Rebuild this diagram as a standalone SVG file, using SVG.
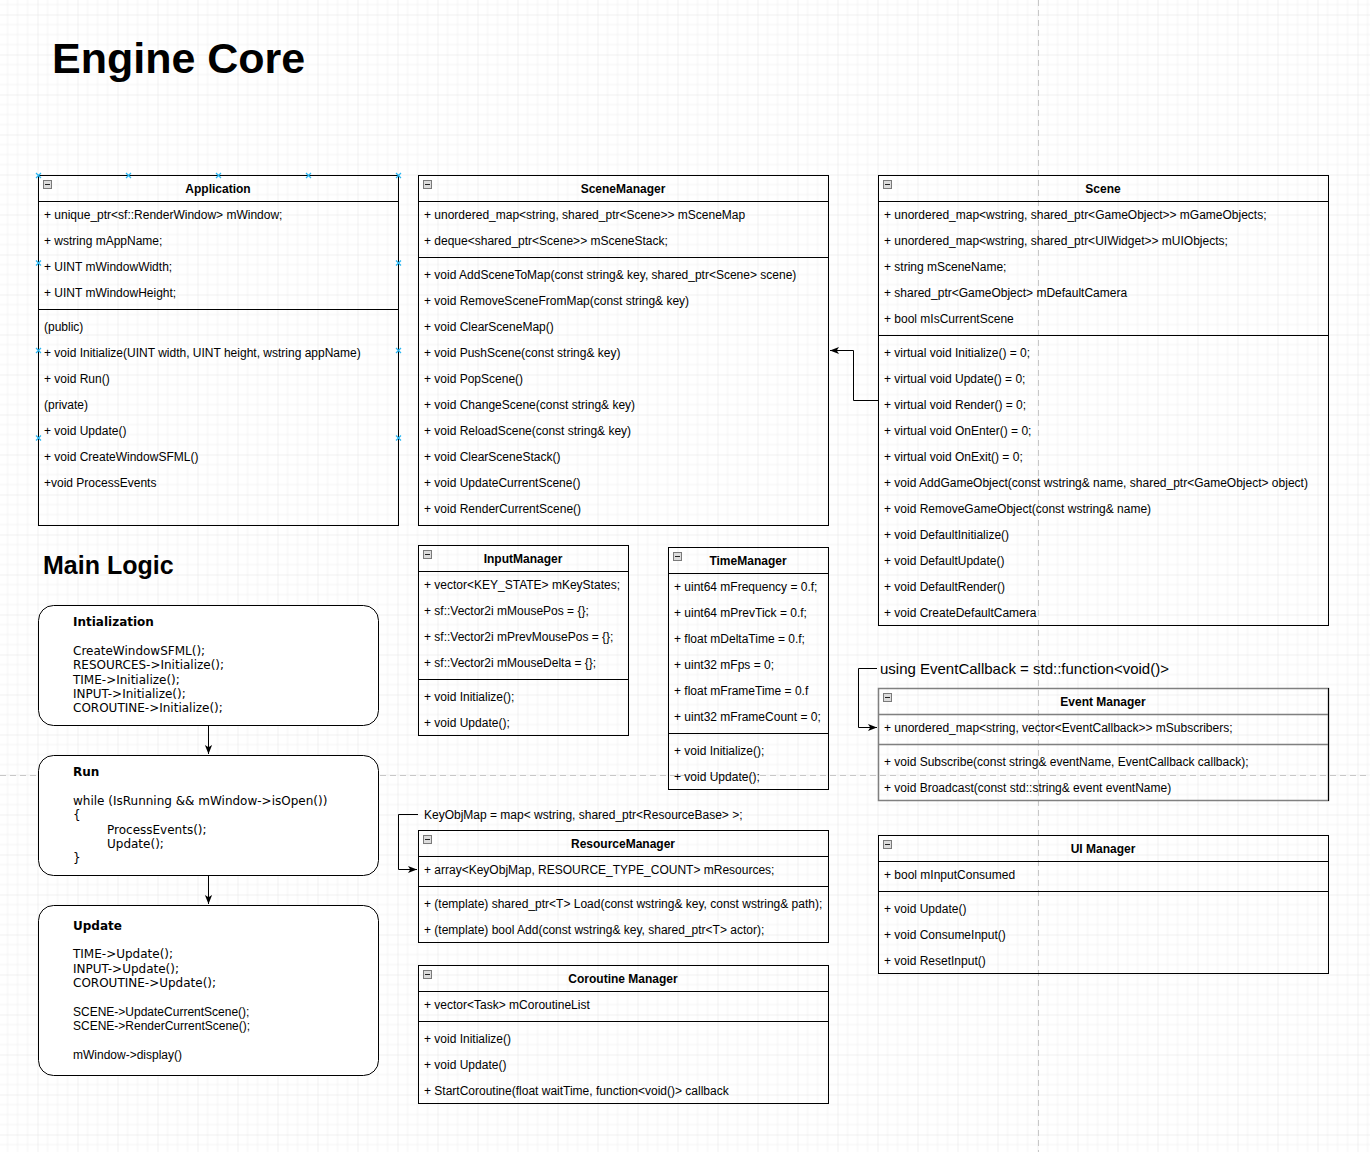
<svg xmlns="http://www.w3.org/2000/svg" xmlns:xlink="http://www.w3.org/1999/xlink" width="1370" height="1152" viewBox="0 0 1370 1152">
<style>
.t{font-family:"Liberation Sans",Arial,sans-serif;font-size:12px;fill:#000}
.h{font-weight:bold;text-anchor:middle}
.d{font-family:"DejaVu Sans",Verdana,sans-serif;font-size:12px;fill:#000}
.db{font-weight:bold}
.box{fill:none;stroke:#000;stroke-width:1}
.ln{stroke:#000;stroke-width:1;fill:none}
.gbox{fill:none;stroke:#808080;stroke-width:1.5}
.rbox{fill:#fff;stroke:#000;stroke-width:1}
.con{fill:none;stroke:#000;stroke-width:1}
.pb{stroke:#c8c8c8;stroke-width:1;stroke-dasharray:6 4;fill:none}
</style>
<defs>
<pattern id="grid" x="-2.5" y="-25.5" width="40" height="40" patternUnits="userSpaceOnUse">
<path d="M10 0V40M20 0V40M30 0V40M0 10H40M0 20H40M0 30H40" stroke="#f4f4f4" stroke-width="1" fill="none"/>
<path d="M0 0V40M0 0H40" stroke="#e3e3e3" stroke-width="1" fill="none"/>
</pattern>
<g id="ic"><rect x="0.5" y="0.5" width="8" height="8" fill="#dcdcdc" stroke="#7a7a7a"/><path d="M2 4.5H7" stroke="#222"/></g>
<g id="hx"><path d="M-2.5 -2.5L2.5 2.5M-2.5 2.5L2.5 -2.5" stroke="#29b6f2" stroke-width="1.2"/></g>
<marker id="arr" viewBox="0 0 10 10" refX="10" refY="5" markerWidth="9" markerHeight="9" markerUnits="userSpaceOnUse" orient="auto">
<path d="M0 1L10 5L0 9L2.5 5Z" fill="#000"/>
</marker>
</defs>
<rect x="0" y="0" width="1370" height="1152" fill="#fff"/>
<rect x="0" y="0" width="1370" height="1152" fill="url(#grid)"/>
<path class="pb" d="M1038.5 0V1152M0 775.5H1370"/>

<text x="52" y="73" class="t" style="font-size:43px;font-weight:bold">Engine Core</text>
<text x="43" y="574" class="t" style="font-size:25px;font-weight:bold">Main Logic</text>

<g id="connectors">
<path class="con" d="M878 400.5H853.5V350.5H830" marker-end="url(#arr)"/>
<path class="con" d="M877 668.5H858.5V727.5H877" marker-end="url(#arr)"/>
<path class="con" d="M418 814.5H398.5V869.5H417" marker-end="url(#arr)"/>
<path class="con" d="M208.5 725V754" marker-end="url(#arr)"/>
<path class="con" d="M208.5 875V904" marker-end="url(#arr)"/>
</g>

<g id="Application">
<rect class="box" x="38.5" y="175.5" width="360" height="350"/>
<path class="ln" d="M38.5 201.5H398.5M38.5 309.5H398.5"/>
<use href="#ic" x="43" y="180"/>
<text class="t h" x="218" y="193">Application</text>
<text class="t" x="44" y="219">+ unique_ptr&lt;sf::RenderWindow&gt; mWindow;</text>
<text class="t" x="44" y="245">+ wstring mAppName;</text>
<text class="t" x="44" y="271">+ UINT mWindowWidth;</text>
<text class="t" x="44" y="297">+ UINT mWindowHeight;</text>
<text class="t" x="44" y="331">(public)</text>
<text class="t" x="44" y="357">+ void Initialize(UINT width, UINT height, wstring appName)</text>
<text class="t" x="44" y="383">+ void Run()</text>
<text class="t" x="44" y="409">(private)</text>
<text class="t" x="44" y="435">+ void Update()</text>
<text class="t" x="44" y="461">+ void CreateWindowSFML()</text>
<text class="t" x="44" y="487">+void ProcessEvents</text>
<use href="#hx" x="38.5" y="175.5"/><use href="#hx" x="128.5" y="175.5"/><use href="#hx" x="218.5" y="175.5"/><use href="#hx" x="308.5" y="175.5"/><use href="#hx" x="398.5" y="175.5"/>
<use href="#hx" x="38.5" y="263"/><use href="#hx" x="38.5" y="350.5"/><use href="#hx" x="38.5" y="438"/>
<use href="#hx" x="398.5" y="263"/><use href="#hx" x="398.5" y="350.5"/><use href="#hx" x="398.5" y="438"/>
</g>

<g id="SceneManager">
<rect class="box" x="418.5" y="175.5" width="410" height="350"/>
<path class="ln" d="M418.5 201.5H828.5M418.5 257.5H828.5"/>
<use href="#ic" x="423" y="180"/>
<text class="t h" x="623" y="193">SceneManager</text>
<text class="t" x="424" y="219">+ unordered_map&lt;string, shared_ptr&lt;Scene&gt;&gt; mSceneMap</text>
<text class="t" x="424" y="245">+ deque&lt;shared_ptr&lt;Scene&gt;&gt; mSceneStack;</text>
<text class="t" x="424" y="279">+ void AddSceneToMap(const string&amp; key, shared_ptr&lt;Scene&gt; scene)</text>
<text class="t" x="424" y="305">+ void RemoveSceneFromMap(const string&amp; key)</text>
<text class="t" x="424" y="331">+ void ClearSceneMap()</text>
<text class="t" x="424" y="357">+ void PushScene(const string&amp; key)</text>
<text class="t" x="424" y="383">+ void PopScene()</text>
<text class="t" x="424" y="409">+ void ChangeScene(const string&amp; key)</text>
<text class="t" x="424" y="435">+ void ReloadScene(const string&amp; key)</text>
<text class="t" x="424" y="461">+ void ClearSceneStack()</text>
<text class="t" x="424" y="487">+ void UpdateCurrentScene()</text>
<text class="t" x="424" y="513">+ void RenderCurrentScene()</text>
</g>

<g id="Scene">
<rect class="box" x="878.5" y="175.5" width="450" height="450"/>
<path class="ln" d="M878.5 201.5H1328.5M878.5 335.5H1328.5"/>
<use href="#ic" x="883" y="180"/>
<text class="t h" x="1103" y="193">Scene</text>
<text class="t" x="884" y="219">+ unordered_map&lt;wstring, shared_ptr&lt;GameObject&gt;&gt; mGameObjects;</text>
<text class="t" x="884" y="245">+ unordered_map&lt;wstring, shared_ptr&lt;UIWidget&gt;&gt; mUIObjects;</text>
<text class="t" x="884" y="271">+ string mSceneName;</text>
<text class="t" x="884" y="297">+ shared_ptr&lt;GameObject&gt; mDefaultCamera</text>
<text class="t" x="884" y="323">+ bool mIsCurrentScene</text>
<text class="t" x="884" y="357">+ virtual void Initialize() = 0;</text>
<text class="t" x="884" y="383">+ virtual void Update() = 0;</text>
<text class="t" x="884" y="409">+ virtual void Render() = 0;</text>
<text class="t" x="884" y="435">+ virtual void OnEnter() = 0;</text>
<text class="t" x="884" y="461">+ virtual void OnExit() = 0;</text>
<text class="t" x="884" y="487">+ void AddGameObject(const wstring&amp; name, shared_ptr&lt;GameObject&gt; object)</text>
<text class="t" x="884" y="513">+ void RemoveGameObject(const wstring&amp; name)</text>
<text class="t" x="884" y="539">+ void DefaultInitialize()</text>
<text class="t" x="884" y="565">+ void DefaultUpdate()</text>
<text class="t" x="884" y="591">+ void DefaultRender()</text>
<text class="t" x="884" y="617">+ void CreateDefaultCamera</text>
</g>

<g id="InputManager">
<rect class="box" x="418.5" y="545.5" width="210" height="190"/>
<path class="ln" d="M418.5 571.5H628.5M418.5 679.5H628.5"/>
<use href="#ic" x="423" y="550"/>
<text class="t h" x="523" y="563">InputManager</text>
<text class="t" x="424" y="589">+ vector&lt;KEY_STATE&gt; mKeyStates;</text>
<text class="t" x="424" y="615">+ sf::Vector2i mMousePos = {};</text>
<text class="t" x="424" y="641">+ sf::Vector2i mPrevMousePos = {};</text>
<text class="t" x="424" y="667">+ sf::Vector2i mMouseDelta = {};</text>
<text class="t" x="424" y="701">+ void Initialize();</text>
<text class="t" x="424" y="727">+ void Update();</text>
</g>

<g id="TimeManager">
<rect class="box" x="668.5" y="547.5" width="160" height="242"/>
<path class="ln" d="M668.5 573.5H828.5M668.5 733.5H828.5"/>
<use href="#ic" x="673" y="552"/>
<text class="t h" x="748" y="565">TimeManager</text>
<text class="t" x="674" y="591">+ uint64 mFrequency = 0.f;</text>
<text class="t" x="674" y="617">+ uint64 mPrevTick = 0.f;</text>
<text class="t" x="674" y="643">+ float mDeltaTime = 0.f;</text>
<text class="t" x="674" y="669">+ uint32 mFps = 0;</text>
<text class="t" x="674" y="695">+ float mFrameTime = 0.f</text>
<text class="t" x="674" y="721">+ uint32 mFrameCount = 0;</text>
<text class="t" x="674" y="755">+ void Initialize();</text>
<text class="t" x="674" y="781">+ void Update();</text>
</g>

<g id="EventCallbackLabel">
<text class="t" x="880" y="674" style="font-size:15px">using EventCallback = std::function&lt;void()&gt;</text>
</g>

<g id="EventManager">
<rect class="gbox" x="878.5" y="688.5" width="450" height="112"/>
<path class="gbox" d="M878.5 714.5H1328.5M878.5 744.5H1328.5"/>
<path class="ln" d="M1328.5 688V801"/>
<use href="#ic" x="883" y="693"/>
<text class="t h" x="1103" y="706">Event Manager</text>
<text class="t" x="884" y="732">+ unordered_map&lt;string, vector&lt;EventCallback&gt;&gt; mSubscribers;</text>
<text class="t" x="884" y="766">+ void Subscribe(const string&amp; eventName, EventCallback callback);</text>
<text class="t" x="884" y="792">+ void Broadcast(const std::string&amp; event eventName)</text>
</g>

<g id="KeyObjMapLabel">
<text class="t" x="424" y="819">KeyObjMap = map&lt; wstring, shared_ptr&lt;ResourceBase&gt; &gt;;</text>
</g>

<g id="ResourceManager">
<rect class="box" x="418.5" y="830.5" width="410" height="112"/>
<path class="ln" d="M418.5 856.5H828.5M418.5 886.5H828.5"/>
<use href="#ic" x="423" y="835"/>
<text class="t h" x="623" y="848">ResourceManager</text>
<text class="t" x="424" y="874">+ array&lt;KeyObjMap, RESOURCE_TYPE_COUNT&gt; mResources;</text>
<text class="t" x="424" y="908">+ (template) shared_ptr&lt;T&gt; Load(const wstring&amp; key, const wstring&amp; path);</text>
<text class="t" x="424" y="934">+ (template) bool Add(const wstring&amp; key, shared_ptr&lt;T&gt; actor);</text>
</g>

<g id="UIManager">
<rect class="box" x="878.5" y="835.5" width="450" height="138"/>
<path class="ln" d="M878.5 861.5H1328.5M878.5 891.5H1328.5"/>
<use href="#ic" x="883" y="840"/>
<text class="t h" x="1103" y="853">UI Manager</text>
<text class="t" x="884" y="879">+ bool mInputConsumed</text>
<text class="t" x="884" y="913">+ void Update()</text>
<text class="t" x="884" y="939">+ void ConsumeInput()</text>
<text class="t" x="884" y="965">+ void ResetInput()</text>
</g>

<g id="CoroutineManager">
<rect class="box" x="418.5" y="965.5" width="410" height="138"/>
<path class="ln" d="M418.5 991.5H828.5M418.5 1021.5H828.5"/>
<use href="#ic" x="423" y="970"/>
<text class="t h" x="623" y="983">Coroutine Manager</text>
<text class="t" x="424" y="1009">+ vector&lt;Task&gt; mCoroutineList</text>
<text class="t" x="424" y="1043">+ void Initialize()</text>
<text class="t" x="424" y="1069">+ void Update()</text>
<text class="t" x="424" y="1095">+ StartCoroutine(float waitTime, function&lt;void()&gt; callback</text>
</g>

<g id="Initialization">
<rect class="rbox" x="38.5" y="605.5" width="340" height="120" rx="15" ry="15"/>
<text class="d db" x="73" y="626">Intialization</text>
<text class="d" x="73" y="655">CreateWindowSFML();</text>
<text class="d" x="73" y="669">RESOURCES-&gt;Initialize();</text>
<text class="d" x="73" y="684">TIME-&gt;Initialize();</text>
<text class="d" x="73" y="698">INPUT-&gt;Initialize();</text>
<text class="d" x="73" y="712">COROUTINE-&gt;Initialize();</text>
</g>

<g id="Run">
<rect class="rbox" x="38.5" y="755.5" width="340" height="120" rx="15" ry="15"/>
<text class="d db" x="73" y="776">Run</text>
<text class="d" x="73" y="805">while (IsRunning &amp;&amp; mWindow-&gt;isOpen())</text>
<text class="d" x="73" y="819">{</text>
<text class="d" x="107" y="834">ProcessEvents();</text>
<text class="d" x="107" y="848">Update();</text>
<text class="d" x="73" y="862">}</text>
</g>

<g id="Update">
<rect class="rbox" x="38.5" y="905.5" width="340" height="170" rx="15" ry="15"/>
<text class="d db" x="73" y="930">Update</text>
<text class="d" x="73" y="958">TIME-&gt;Update();</text>
<text class="d" x="73" y="973">INPUT-&gt;Update();</text>
<text class="d" x="73" y="987">COROUTINE-&gt;Update();</text>
<text class="t" x="73" y="1016">SCENE-&gt;UpdateCurrentScene();</text>
<text class="t" x="73" y="1030">SCENE-&gt;RenderCurrentScene();</text>
<text class="t" x="73" y="1059">mWindow-&gt;display()</text>
</g>
</svg>
